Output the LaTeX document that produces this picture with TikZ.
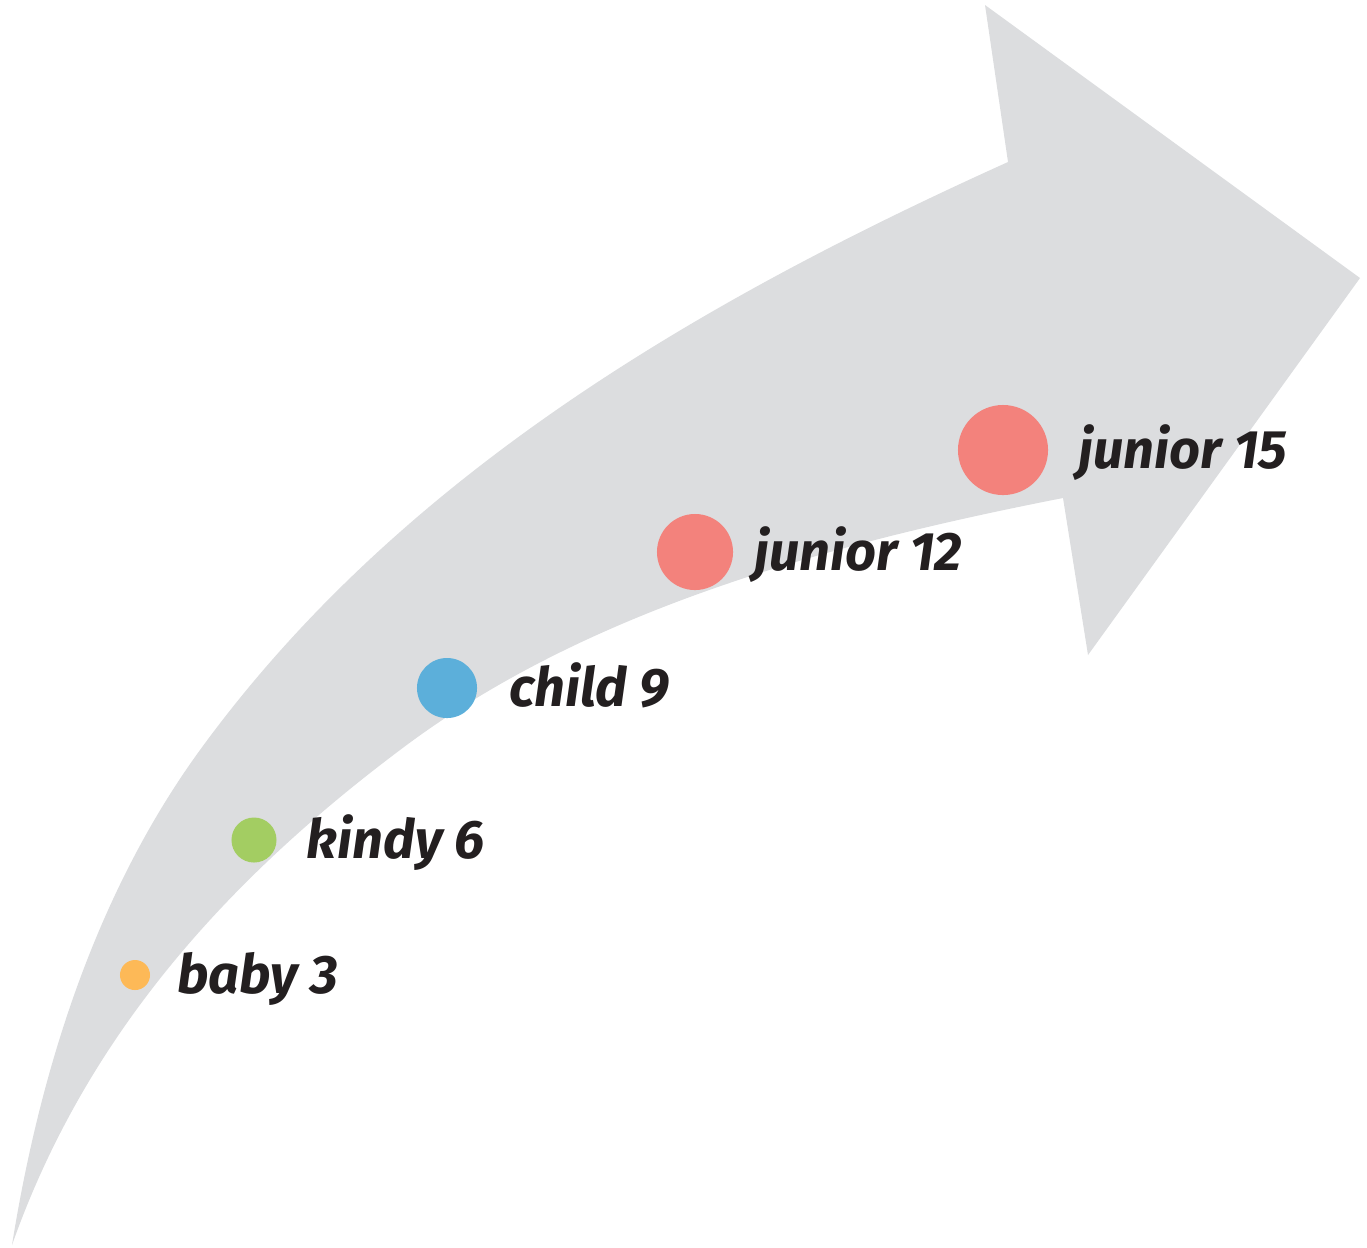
\documentclass[tikz,border=0pt]{standalone}
\usepackage{fontspec}
\setmainfont{Fira Sans}
\usepackage{tikz}
\usetikzlibrary{positioning}

\definecolor{arrowgray}{HTML}{DCDDDF}
\definecolor{dotorange}{HTML}{FDB957}
\definecolor{dotgreen}{HTML}{A3CD62}
\definecolor{dotblue}{HTML}{5CAFDA}
\definecolor{dotred}{HTML}{F3827C}
\definecolor{textdark}{HTML}{231F20}

\tikzset{
  dot/.style={circle, inner sep=0pt, draw=none},
  agelabel/.style={inner sep=0pt, text=textdark,
    font=\fontsize{15.4pt}{18pt}\selectfont\bfseries\itshape}
}

\begin{document}
\begin{tikzpicture}[x=0.01cm, y=-0.01cm]
  \useasboundingbox (0,0) rectangle (1367,1247);

  % the big curved arrow
  \fill[arrowgray] (12,1245)
    .. controls (40,1070) and (96,893) .. (200,750)
    .. controls (400,475) and (700,301) .. (1008,162)
    -- (985,5) -- (1360,278) -- (1088,655) -- (1063,498)
    .. controls (828,544) and (585,610) .. (400,750)
    .. controls (224,882) and (85,1038) .. (12,1245)
    -- cycle;

  % dots and their ages
  \foreach \nm/\x/\y/\r/\clr/\gap/\txt in {
      baby/135/975/15/dotorange/0.26/baby 3,
      kindy/254/840/22.5/dotgreen/0.29/kindy 6,
      child/447/688/30/dotblue/0.31/child 9,
      juniorA/695/552/38/dotred/0.2/junior 12,
      juniorB/1003/450/45/dotred/0.29/junior 15} {
    \node[dot, fill=\clr, minimum size=\r*0.02cm] (\nm) at (\x,\y) {};
    \node[agelabel, right=\gap cm of \nm.east, anchor=base west,
      yshift=-0.18cm] (\nm-txt) {\txt};
  }
\end{tikzpicture}
\end{document}
